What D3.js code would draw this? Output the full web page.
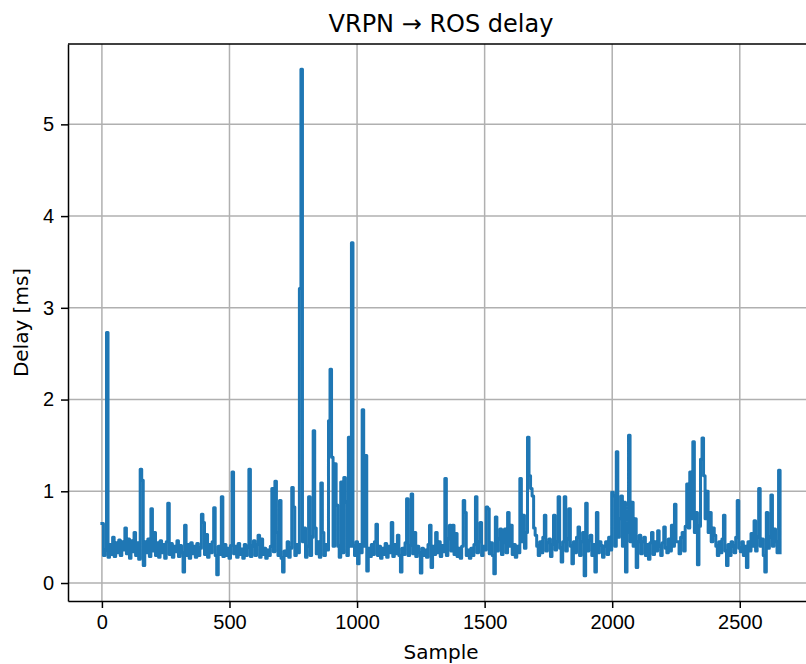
<!DOCTYPE html>
<html>
<head>
<meta charset="utf-8">
<script src="https://cdn.jsdelivr.net/npm/d3@7"></script>
<style>
    body { margin: 0; background: #fff; }
    svg { display: block; font-family: "DejaVu Sans", sans-serif; }
    .grid line { stroke: #b0b0b0; stroke-width: 1.5; }
    .axis path, .axis line { stroke: #000; stroke-width: 1.5; }
    .axis text { font-size: 20px; fill: #000; }
</style>
</head>
<body>
<div class="svg_container"></div>
<script>
// one reading every 6th sample
var SAMPLE_STEP = 6;
var delayMs = [
    0.65, 0.30, 0.36, 2.73, 0.28, 0.42, 0.31, 0.50, 0.29, 0.44, 0.33, 0.47, 0.30, 0.45, 0.36, 0.60, 0.32, 0.48, 0.27, 0.46,
    0.34, 0.55, 0.30, 0.44, 0.26, 1.24, 1.12, 0.19, 0.45, 0.33, 0.48, 0.29, 0.81, 0.35, 0.55, 0.30, 0.44, 0.28, 0.46, 0.33,
    0.42, 0.27, 0.45, 0.87, 0.31, 0.43, 0.28, 0.40, 0.34, 0.46, 0.29, 0.41, 0.33, 0.12, 0.63, 0.30, 0.42, 0.27, 0.44, 0.32,
    0.40, 0.28, 0.43, 0.30, 0.38, 0.75, 0.66, 0.31, 0.53, 0.28, 0.42, 0.33, 0.45, 0.82, 0.30, 0.09, 0.40, 0.31, 0.94, 0.29,
    0.42, 0.30, 0.38, 0.27, 0.41, 1.21, 0.32, 0.40, 0.28, 0.43, 0.31, 0.37, 0.27, 0.42, 0.30, 0.39, 1.24, 0.29, 0.40, 0.46,
    0.30, 0.42, 0.52, 0.28, 0.48, 0.31, 0.38, 0.27, 0.36, 0.30, 0.40, 1.03, 0.34, 1.11, 0.55, 0.30, 0.90, 0.27, 0.12, 0.35,
    0.30, 0.45, 0.28, 0.38, 1.04, 0.83, 0.30, 0.42, 0.33, 3.21, 5.60, 0.45, 0.60, 0.28, 0.40, 0.94, 0.30, 0.50, 1.66, 0.60,
    0.32, 0.45, 0.28, 1.09, 0.55, 0.30, 0.42, 0.36, 1.77, 2.33, 1.37, 0.40, 1.30, 0.85, 0.40, 0.28, 1.10, 0.33, 1.15, 0.88,
    0.30, 1.59, 0.40, 3.71, 0.40, 0.30, 0.45, 0.21, 0.42, 0.33, 1.89, 0.40, 1.39, 0.13, 0.38, 0.29, 0.42, 0.31, 0.45, 0.64,
    0.30, 0.40, 0.27, 0.38, 0.31, 0.43, 0.28, 0.40, 0.33, 0.66, 0.29, 0.42, 0.32, 0.52, 0.30, 0.12, 0.38, 0.31, 0.44, 0.92,
    0.30, 0.41, 0.97, 0.32, 0.55, 0.29, 0.40, 0.33, 0.11, 0.38, 0.30, 0.36, 0.28, 0.42, 0.63, 0.17, 0.40, 0.31, 0.55, 0.33,
    0.45, 0.29, 0.41, 0.34, 1.14, 0.30, 0.48, 0.63, 0.35, 0.63, 0.31, 0.54, 0.29, 0.38, 0.27, 0.40, 0.90, 0.77, 0.30, 0.36,
    0.27, 0.38, 0.30, 0.42, 0.94, 0.33, 0.45, 0.66, 0.30, 0.40, 0.36, 0.83, 0.81, 0.32, 0.44, 0.30, 0.10, 0.72, 0.35, 0.48,
    0.59, 0.31, 0.44, 0.59, 0.33, 0.77, 0.40, 0.63, 0.31, 0.42, 0.28, 0.40, 0.33, 1.14, 0.45, 0.74, 0.38, 0.55, 1.59, 1.17,
    1.03, 0.95, 0.60, 0.52, 0.40, 0.30, 0.45, 0.33, 0.50, 0.74, 0.35, 0.44, 0.48, 0.29, 0.42, 0.74, 0.36, 0.45, 0.94, 0.38,
    0.23, 0.45, 0.94, 0.35, 0.48, 0.81, 0.40, 0.21, 0.45, 0.33, 0.50, 0.61, 0.30, 0.45, 0.55, 0.08, 0.87, 0.35, 0.46, 0.52,
    0.30, 0.42, 0.12, 0.77, 0.33, 0.45, 0.41, 0.28, 0.40, 0.45, 0.31, 0.50, 0.36, 0.99, 0.95, 0.40, 1.43, 0.50, 0.70, 0.95,
    0.40, 0.88, 0.12, 0.55, 1.61, 0.45, 0.88, 0.40, 0.70, 0.17, 0.45, 0.52, 0.32, 0.45, 0.50, 0.30, 0.42, 0.26, 0.44, 0.55,
    0.31, 0.45, 0.35, 0.57, 0.40, 0.30, 0.44, 0.61, 0.38, 0.33, 0.48, 0.35, 0.63, 0.40, 0.86, 0.45, 0.45, 0.32, 0.50, 0.55,
    0.35, 0.62, 1.08, 0.60, 1.21, 0.70, 1.54, 0.55, 0.77, 0.20, 0.62, 1.35, 1.58, 1.17, 0.70, 1.00, 0.55, 0.77, 0.45, 0.60,
    0.52, 0.40, 0.30, 0.45, 0.33, 0.48, 0.74, 0.35, 0.19, 0.42, 0.30, 0.45, 0.40, 0.33, 0.50, 0.90, 0.38, 0.34, 0.45, 0.30,
    0.40, 0.17, 0.45, 0.35, 0.54, 0.40, 0.68, 0.35, 0.50, 1.03, 0.40, 0.48, 0.30, 0.12, 0.77, 0.38, 0.50, 0.96, 0.40, 0.59,
    0.45, 0.33, 1.23, 0.33
];
var xTicks = [0, 500, 1000, 1500, 2000, 2500];
var yTicks = [0, 1, 2, 3, 4, 5];

var TITLE = "VRPN \u2192 ROS delay";
var X_LABEL = "Sample";
var Y_LABEL = "Delay [ms]";
var LINE_COLOR = "#1f77b4";

const WIDTH = 806;
const HEIGHT = 664;
const LEFT = 68;
const TOP = 44;
const INNER_WIDTH = 746;   // right spine falls just outside the picture
const INNER_HEIGHT = 557;

var translate = function (x, y) {
    return "translate(" + x + "," + y + ")";
};

var pointData = delayMs.map(function (v, i) {
    return {x: i * SAMPLE_STEP, y: v};
});

// matplotlib-like 5% margins around the data
var pad = function (ext) {
    var m = (ext[1] - ext[0]) * 0.05;
    return [ext[0] - m, ext[1] + m];
};

var _xScale = d3.scaleLinear()
    .domain(pad(d3.extent(pointData, function (d) { return d.x; })))
    .range([0, INNER_WIDTH]);

var _yScale = d3.scaleLinear()
    .domain(pad(d3.extent(pointData, function (d) { return d.y; })))
    .range([INNER_HEIGHT, 0]);

// dense samples: each reading is held until the next one
var line = d3.line()
    .curve(d3.curveStepAfter)
    .x(function (d) { return _xScale(d.x); })
    .y(function (d) { return _yScale(d.y); });

var loadDefault = function () {
    var svg = d3.select('.svg_container').append('svg')
        .attr('width', WIDTH)
        .attr('height', HEIGHT);

    var g = svg.append('g').attr('transform', translate(LEFT, TOP));

    // grid
    var grid = g.append('g').attr('class', 'grid');
    grid.selectAll('.gx').data(xTicks).enter().append('line')
        .attr('x1', function (d) { return _xScale(d); })
        .attr('x2', function (d) { return _xScale(d); })
        .attr('y1', 0).attr('y2', INNER_HEIGHT);
    grid.selectAll('.gy').data(yTicks).enter().append('line')
        .attr('y1', function (d) { return _yScale(d); })
        .attr('y2', function (d) { return _yScale(d); })
        .attr('x1', 0).attr('x2', INNER_WIDTH);

    // data line
    g.append('path')
        .attr('class', 'lineChart')
        .attr('d', line(pointData))
        .attr('fill', 'none')
        .attr('stroke', LINE_COLOR)
        .attr('stroke-width', 3)
        .attr('stroke-linejoin', 'round')
        .attr('stroke-linecap', 'square');

    // axes
    var fmt = d3.format('d');
    var xAxis = d3.axisBottom(_xScale).tickValues(xTicks).tickFormat(fmt)
        .tickSize(7).tickPadding(7).tickSizeOuter(0);
    var yAxis = d3.axisLeft(_yScale).tickValues(yTicks).tickFormat(fmt)
        .tickSize(7).tickPadding(7).tickSizeOuter(0);

    g.append('g').attr('class', 'axis')
        .attr('transform', translate(0, INNER_HEIGHT))
        .call(xAxis);
    g.append('g').attr('class', 'axis')
        .call(yAxis);

    // top and right spines
    g.append('line').attr('x1', 0).attr('x2', INNER_WIDTH).attr('y1', 0).attr('y2', 0)
        .attr('stroke', '#000').attr('stroke-width', 1.5);
    g.append('line').attr('x1', INNER_WIDTH).attr('x2', INNER_WIDTH).attr('y1', 0).attr('y2', INNER_HEIGHT)
        .attr('stroke', '#000').attr('stroke-width', 1.5);

    // texts
    svg.append('text')
        .attr('x', LEFT + INNER_WIDTH / 2).attr('y', TOP - 12)
        .attr('text-anchor', 'middle')
        .attr('font-size', 24)
        .text(TITLE);

    svg.append('text')
        .attr('x', LEFT + INNER_WIDTH / 2).attr('y', 659)
        .attr('text-anchor', 'middle')
        .attr('font-size', 20)
        .text(X_LABEL);

    svg.append('text')
        .attr('transform', translate(28, TOP + INNER_HEIGHT / 2) + ' rotate(-90)')
        .attr('text-anchor', 'middle')
        .attr('font-size', 20)
        .text(Y_LABEL);
};

window.onload = loadDefault;
</script>
</body>
</html>
